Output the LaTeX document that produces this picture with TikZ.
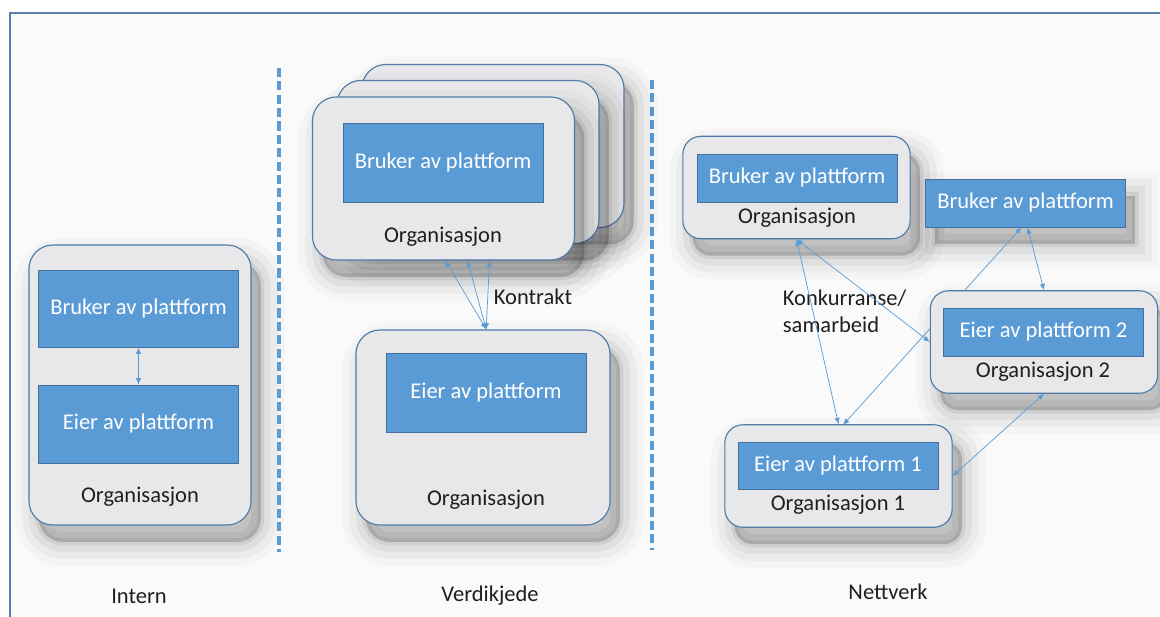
\documentclass[tikz,border=0pt]{standalone}
\usepackage{fontspec}
\setmainfont{Carlito}
\usetikzlibrary{arrows.meta}
\definecolor{platblue}{HTML}{5B9BD5}
\definecolor{platedge}{HTML}{41719C}
\definecolor{orgfill}{HTML}{E8E8EA}
\definecolor{orgedge}{HTML}{4F79A8}
\definecolor{framecol}{HTML}{5A7FA8}
\definecolor{paper}{HTML}{FAFAFA}
\tikzset{every picture/.style={line width=0.75pt}}
\tikzset{
  shadowlayer/.style 2 args={preaction={draw=black, fill=black, opacity=#1, line width=#2,
    transform canvas={xshift=7pt, yshift=-12pt}}},
  softshadow/.style={
    shadowlayer={0.025}{34pt}, shadowlayer={0.035}{24pt},
    shadowlayer={0.05}{14pt}, shadowlayer={0.07}{5pt}},
  org/.style={draw=orgedge, fill=orgfill, line width=0.8pt, inner sep=0pt,
    rounded corners=0.6cm, softshadow},
  smallorg/.style={org, rounded corners=0.45cm, minimum width=5.68cm, minimum height=2.56cm},
  plat/.style={draw=platedge, fill=platblue, line width=0.5pt, text=white,
    font=\fontsize{16}{19}\selectfont, minimum width=5cm, inner sep=0pt},
  txt/.style={text=black!88, font=\fontsize{16}{19}\selectfont, inner sep=1pt},
  link/.style={draw=platblue, line width=0.5pt,
    {Latex[length=1.6mm,width=1.3mm]}-{Latex[length=1.6mm,width=1.3mm]}},
  divider/.style={draw=platblue, line width=2.6pt, dash pattern=on 6.5pt off 3pt},
}

\begin{document}
\begin{tikzpicture}[x=0.025cm, y=-0.025cm]
    \useasboundingbox (0,0) rectangle (1160,617);

    % frame
    \draw[framecol, line width=1.2pt, fill=paper] (10,13) rectangle (1180,640);

    % === Intern ===
    \node[org, minimum width=5.55cm, minimum height=7cm] (iorg) at (140,385) {};
    \node[plat, minimum height=1.925cm] (ibruker) at (138.5,308.5) {Bruker av plattform};
    \node[plat, minimum height=1.95cm] (ieier) at (138.5,424) {Eier av plattform};
    \node[txt] (iorgtxt) at (140,497) {Organisasjon};
    \draw[link] (ibruker) -- (ieier);

    % skillelinjer
    \draw[divider] (279,68) -- (279,552);
    \draw[divider] (652,80) -- (652,550);

    % === Verdikjede ===
    % stabel av brukere
    \node[org, minimum width=6.55cm, minimum height=4.075cm] (vback) at (493,146) {};
    \node[org, minimum width=6.55cm, minimum height=4.075cm] (vmid) at (468,162) {};
    \node[org, minimum width=6.55cm, minimum height=4.075cm] (vfront) at (443.5,178.5) {};
    \node[plat, minimum height=1.975cm] (vbruker) at (443,162.5) {Bruker av plattform};
    \node[txt] (vorgtxt) at (443,237) {Organisasjon};

    % eier
    \node[org, minimum width=6.35cm, minimum height=4.875cm] (vown) at (483,427.5) {};
    \node[plat, minimum height=1.975cm] (veier) at (486,392.5) {Eier av plattform};
    \node[txt] (vowntxt) at (486,500) {Organisasjon};

    % kontrakter
    \foreach \dx in {0.05,0.6,1.15} {
        \draw[link] ([xshift=\dx cm]vfront.south) -- ([xshift=0.08cm]vown.north);
    }
    \node[txt] (kontrakt) at (533,297) {Kontrakt};

    % === Nettverk ===
    \node[smallorg] (norg) at (796.5,187.5) {};
    \node[plat, minimum height=1.2cm] (nbruker) at (797,178) {Bruker av plattform};
    \node[txt] (norgtxt) at (797,218) {Organisasjon};

    \node[plat, minimum height=1.2cm, softshadow] (nbruker2) at (1025.5,203) {Bruker av plattform};

    % linje bak organisasjon 2
    \coordinate (n1top) at (843,425);
    \draw[link] ([xshift=-0.1cm]nbruker2.south) -- (n1top);

    \node[smallorg] (norg2) at (1044,342) {};
    \node[plat, minimum height=1.2cm] (neier2) at (1043.5,332) {Eier av plattform 2};
    \node[txt] (norg2txt) at (1043,372) {Organisasjon 2};

    \node[smallorg] (norg1) at (838.5,476) {};
    \node[plat, minimum height=1.175cm] (neier1) at (838,465.5) {Eier av plattform 1};
    \node[txt] (norg1txt) at (838,505) {Organisasjon 1};

    \node[txt, align=left, anchor=west] (konk) at (781,311) {Konkurranse/\\samarbeid};

    % forbindelser
    \draw[link] (norg.south) -- (norg1.north);
    \draw[link] (norg.south) -- (norg2.west);
    \draw[link] ([xshift=0.05cm]nbruker2.south) -- (norg2.north);
    \draw[link] (norg2.south) -- (norg1.east);

    % Labels
    \node[txt] (lintern) at (139,596) {Intern};
    \node[txt] (lverdi) at (490,596) {Verdikjede};
    \node[txt] (lnett) at (888,592) {Nettverk};
\end{tikzpicture}
\end{document}
